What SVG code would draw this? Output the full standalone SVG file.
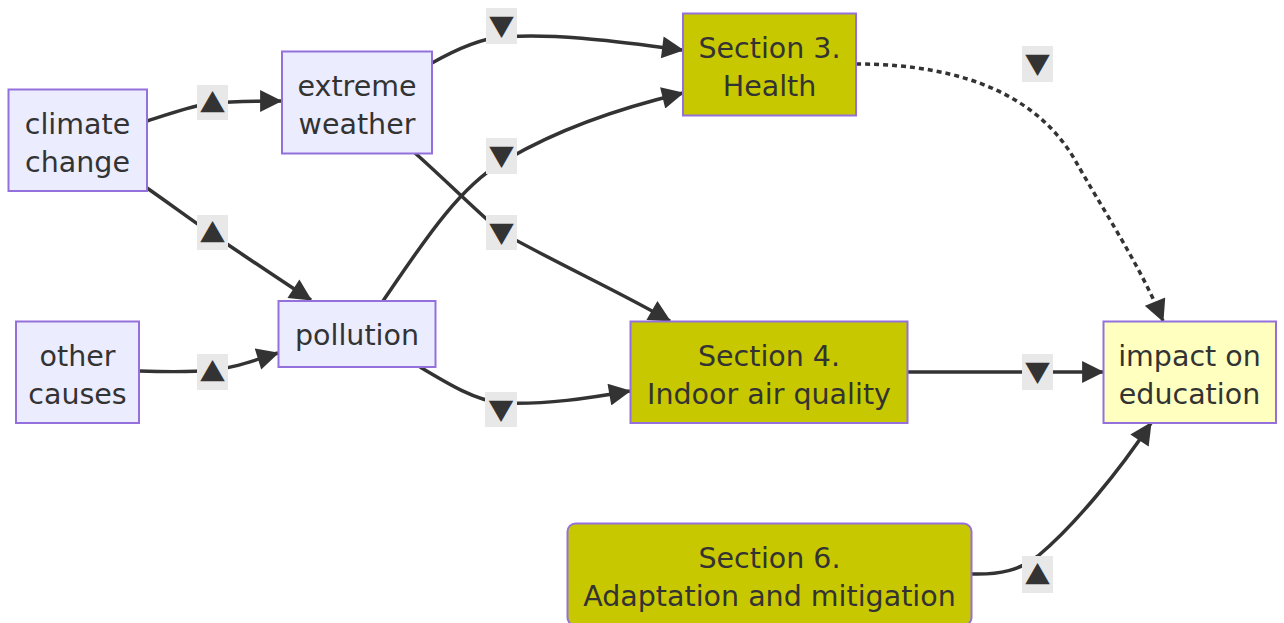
<svg xmlns="http://www.w3.org/2000/svg" width="1284" height="623" viewBox="0 0 1284 623">
<defs>
<style>
.node rect{fill:#ECECFF;stroke:#9370DB;stroke-width:2}
.sec rect{fill:#c8c800;stroke:#9370DB;stroke-width:2}
.imp rect{fill:#ffffc0;stroke:#9370DB;stroke-width:2}
text{font-family:"DejaVu Sans","Liberation Sans",sans-serif;font-size:28.5px;fill:#333;text-anchor:middle}
.edge{fill:none;stroke:#333;stroke-width:3.5;marker-end:url(#arr)}
.dot{stroke-dasharray:5 4}
.lbl rect{fill:#e8e8e8}
.lbl text{font-family:"Noto Sans CJK SC","DejaVu Sans",sans-serif;font-size:26px}
</style>
<marker id="arr" markerUnits="userSpaceOnUse" viewBox="0 0 10 10" refX="9.5" refY="5" markerWidth="23" markerHeight="22" orient="auto">
<path d="M0,0 L10,5 L0,10 z" fill="#333"/>
</marker>
</defs>
<g id="connectors">
<path class="edge" d="M147,121 C170,114 190,106 212,103 C235,101 255,101 281,101"/>
<path class="edge" d="M147,188 C170,204 190,219 212,234 C245,256 280,280 311,300"/>
<path class="edge" d="M139,371 C170,372 195,372 212,370 C235,368 255,360 278,353"/>
<path class="edge" d="M432,63 C455,50 478,39 501,37 C560,33 620,42 683,50"/>
<path class="edge" d="M383,301 C415,255 455,190 501,163 C555,130 620,108 683,93"/>
<path class="edge" d="M415,153 C440,175 470,205 501,232 C560,265 620,292 670,321"/>
<path class="edge" d="M420,367 C450,385 475,400 501,403 C545,405 590,398 630,391"/>
<path class="edge dot" d="M856,64 C970,64 1040,100 1075,160 C1100,205 1140,265 1163,321"/>
<path class="edge" d="M908,372 L1103,372"/>
<path class="edge" d="M971,574 C1000,575 1020,570 1038,556 C1075,525 1120,470 1151,423"/>
</g>
<g id="labels">
<g class="lbl"><rect x="197" y="85" width="31" height="35"/><text x="212.5" y="112.5">▲</text></g>
<g class="lbl"><rect x="197" y="215" width="31" height="35"/><text x="212.5" y="242.5">▲</text></g>
<g class="lbl"><rect x="197" y="354" width="31" height="36"/><text x="212.5" y="382">▲</text></g>
<g class="lbl"><rect x="486" y="8" width="31" height="36"/><text x="501.5" y="36">▼</text></g>
<g class="lbl"><rect x="486" y="138" width="31" height="36"/><text x="501.5" y="166">▼</text></g>
<g class="lbl"><rect x="486" y="215" width="31" height="35"/><text x="501.5" y="242.5">▼</text></g>
<g class="lbl"><rect x="485" y="392" width="32" height="35"/><text x="501" y="419.5">▼</text></g>
<g class="lbl"><rect x="1022" y="46" width="31" height="36"/><text x="1037.5" y="74">▼</text></g>
<g class="lbl"><rect x="1022" y="354" width="31" height="36"/><text x="1037.5" y="382">▼</text></g>
<g class="lbl"><rect x="1022" y="556" width="31" height="37"/><text x="1037.5" y="584.5">▲</text></g>
</g>
<g id="climate" class="node"><rect x="8.5" y="89.5" width="138.5" height="101.5"/><text x="77.5" y="134">climate</text><text x="77.5" y="172">change</text></g>
<g id="extreme" class="node"><rect x="282" y="51.5" width="150" height="102"/><text x="357" y="96">extreme</text><text x="357" y="134">weather</text></g>
<g id="other" class="node"><rect x="16" y="321.5" width="123" height="101.5"/><text x="77.5" y="366">other</text><text x="77.5" y="404">causes</text></g>
<g id="pollution" class="node"><rect x="278.5" y="301" width="157" height="66"/><text x="357" y="345">pollution</text></g>
<g id="health" class="sec"><rect x="683" y="13.5" width="173" height="102"/><text x="769.5" y="58">Section 3.</text><text x="769.5" y="96">Health</text></g>
<g id="indoor" class="sec"><rect x="630.5" y="321.5" width="277" height="101.5"/><text x="769" y="366">Section 4.</text><text x="769" y="404">Indoor air quality</text></g>
<g id="impact" class="imp"><rect x="1103.5" y="321.5" width="172.5" height="101.5"/><text x="1189.5" y="366">impact on</text><text x="1189.5" y="404">education</text></g>
<g id="adapt" class="sec"><rect x="567.5" y="523.5" width="404" height="102" rx="8" ry="8"/><text x="769.5" y="568">Section 6.</text><text x="769.5" y="606">Adaptation and mitigation</text></g>
</svg>
